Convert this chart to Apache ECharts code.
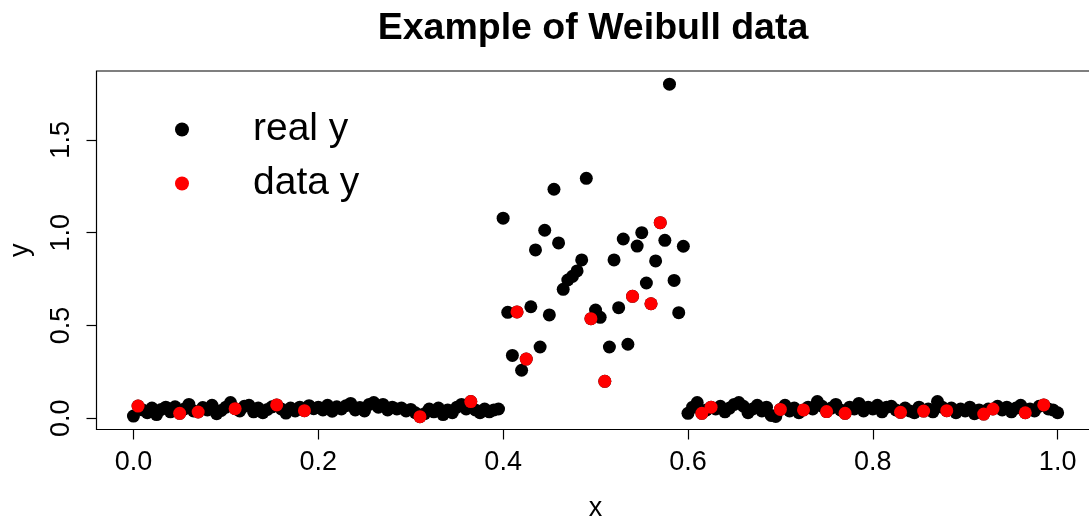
<!DOCTYPE html>
<html style="height: 100%">
<head>
    <meta charset="utf-8">
    <title>Example of Weibull data</title>
</head>
<body style="height: 100%; margin: 0; background: #fff">
<div id="container" style="width: 1089px; height: 520px"></div>

<script type="text/javascript" src="https://cdn.jsdelivr.net/npm/echarts@6/dist/echarts.min.js"></script>

<script type="text/javascript">
    // x grid: the "real y" points are sampled every 0.005 from 0 to 1
    var xStep = 0.005;

    // real y, x = 0.000 .. 0.395 (flat part)
    var realLeft = [
        0.012, 0.066, 0.045, 0.030, 0.055, 0.020, 0.048, 0.060, 0.035, 0.062,
        0.027, 0.050, 0.075, 0.040, 0.034, 0.058, 0.045, 0.070, 0.025, 0.042,
        0.060, 0.085, 0.052, 0.040, 0.065, 0.070, 0.035, 0.055, 0.030, 0.048,
        0.062, 0.072, 0.050, 0.028, 0.055, 0.040, 0.060, 0.041, 0.068, 0.052,
        0.060, 0.045, 0.070, 0.038, 0.062, 0.050, 0.068, 0.080, 0.045, 0.058,
        0.040, 0.075, 0.085, 0.060, 0.075, 0.045, 0.060, 0.050, 0.055, 0.040,
        0.048, 0.030, 0.009, 0.025, 0.050, 0.035, 0.055, 0.020, 0.045, 0.030,
        0.060, 0.075, 0.050, 0.090, 0.045, 0.030, 0.050, 0.035, 0.045, 0.050
    ];
    // real y, x = 0.400 .. 0.595 (the bump)
    var realMid = [
        1.078, 0.571, 0.339, 0.573, 0.259, 0.319, 0.601, 0.907, 0.384, 1.013,
        0.557, 1.234, 0.945, 0.695, 0.745, 0.765, 0.794, 0.853, 1.293, 0.537,
        0.583, 0.544, 0.199, 0.384, 0.853, 0.596, 0.966, 0.399, 0.657, 0.928,
        1.000, 0.729, 0.617, 0.848, 1.054, 0.959, 1.800, 0.743, 0.569, 0.927
    ];
    // real y, x = 0.600 .. 1.000 (flat part)
    var realRight = [
        0.027, 0.060, 0.085, 0.027, 0.045, 0.060, 0.050, 0.065, 0.035, 0.055,
        0.075, 0.085, 0.065, 0.030, 0.050, 0.070, 0.040, 0.060, 0.015, 0.010,
        0.048, 0.070, 0.040, 0.055, 0.030, 0.045, 0.060, 0.050, 0.090, 0.065,
        0.036, 0.055, 0.075, 0.045, 0.027, 0.060, 0.050, 0.080, 0.040, 0.060,
        0.050, 0.070, 0.035, 0.060, 0.065, 0.045, 0.032, 0.055, 0.040, 0.030,
        0.060, 0.039, 0.050, 0.035, 0.090, 0.060, 0.041, 0.055, 0.030, 0.050,
        0.040, 0.060, 0.025, 0.045, 0.023, 0.050, 0.050, 0.065, 0.045, 0.060,
        0.035, 0.055, 0.070, 0.030, 0.050, 0.040, 0.065, 0.072, 0.050, 0.045,
        0.030
    ];

    // data y (observed subset)
    var dataX = [
        0.005, 0.050, 0.070, 0.110, 0.155, 0.185, 0.310, 0.365,
        0.415, 0.425, 0.495, 0.510, 0.540, 0.560, 0.570,
        0.615, 0.625, 0.700, 0.725, 0.750, 0.770, 0.830, 0.855,
        0.880, 0.920, 0.930, 0.965, 0.985
    ];
    var dataY = [
        0.066, 0.027, 0.034, 0.052, 0.072, 0.041, 0.009, 0.090,
        0.573, 0.319, 0.537, 0.199, 0.657, 0.617, 1.054,
        0.027, 0.060, 0.048, 0.045, 0.036, 0.027, 0.032, 0.039,
        0.041, 0.023, 0.050, 0.030, 0.072
    ];

    var xTicks = [0, 0.2, 0.4, 0.6, 0.8, 1.0];
    var yTicks = [0, 0.5, 1.0, 1.5];

    var realY = realLeft.concat(realMid, realRight);
    var realData = realY.map(function (v, i) {
        return [+(i * xStep).toFixed(3), v];
    });
    var obsData = dataX.map(function (x, i) {
        return [x, dataY[i]];
    });

    var FONT = '"Liberation Sans", Arial, Helvetica, sans-serif';

    var dom = document.getElementById('container');
    var myChart = echarts.init(dom, null, {renderer: 'canvas'});

    var option = {
        animation: false,
        backgroundColor: '#ffffff',
        title: {
            text: 'Example of Weibull data',
            left: 588,
            top: 5,
            textAlign: 'center',
            textStyle: {
                fontFamily: FONT,
                fontSize: 37.5,
                fontWeight: 'bold',
                color: '#000'
            }
        },
        legend: {
            orient: 'vertical',
            left: 170,
            top: 105,
            icon: 'circle',
            itemWidth: 14,
            itemHeight: 14,
            itemGap: 15,
            data: ['real y', 'data y'],
            textStyle: {
                fontFamily: FONT,
                fontSize: 39,
                color: '#000',
                padding: [0, 0, 0, 59]
            }
        },
        grid: {
            left: 96.5,
            right: -5.6,
            top: 71,
            bottom: 90.5,
            show: true,
            borderColor: '#000',
            borderWidth: 1.2,
            containLabel: false,
            outerBoundsMode: 'none'
        },
        xAxis: {
            type: 'value',
            min: -0.04,
            max: 1.04,
            name: 'x',
            nameLocation: 'middle',
            nameGap: 66,
            nameTextStyle: {fontFamily: FONT, fontSize: 27, color: '#000'},
            axisLine: {show: false, onZero: false},
            splitLine: {show: false},
            axisTick: {
                show: true,
                length: 10,
                customValues: xTicks,
                lineStyle: {color: '#000', width: 1.2}
            },
            axisLabel: {
                customValues: xTicks,
                margin: 20,
                fontFamily: FONT,
                fontSize: 27,
                color: '#000',
                formatter: function (v) { return v.toFixed(1); }
            }
        },
        yAxis: {
            type: 'value',
            min: -0.0603,
            max: 1.871,
            name: 'y',
            nameLocation: 'middle',
            nameGap: 62,
            nameTextStyle: {fontFamily: FONT, fontSize: 27, color: '#000'},
            axisLine: {show: false, onZero: false},
            splitLine: {show: false},
            axisTick: {
                show: true,
                length: 10,
                customValues: yTicks,
                lineStyle: {color: '#000', width: 1.2}
            },
            axisLabel: {
                customValues: yTicks,
                rotate: 90,
                margin: 21,
                fontFamily: FONT,
                fontSize: 27,
                color: '#000',
                formatter: function (v) { return v.toFixed(1); }
            }
        },
        series: [
            {
                name: 'real y',
                type: 'scatter',
                symbol: 'circle',
                symbolSize: 13,
                itemStyle: {color: '#000000', opacity: 1},
                data: realData
            },
            {
                name: 'data y',
                type: 'scatter',
                symbol: 'circle',
                symbolSize: 13,
                itemStyle: {color: '#ff0000', opacity: 1},
                data: obsData
            }
        ]
    };

    myChart.setOption(option);
    window.addEventListener('resize', myChart.resize);
</script>
</body>
</html>
